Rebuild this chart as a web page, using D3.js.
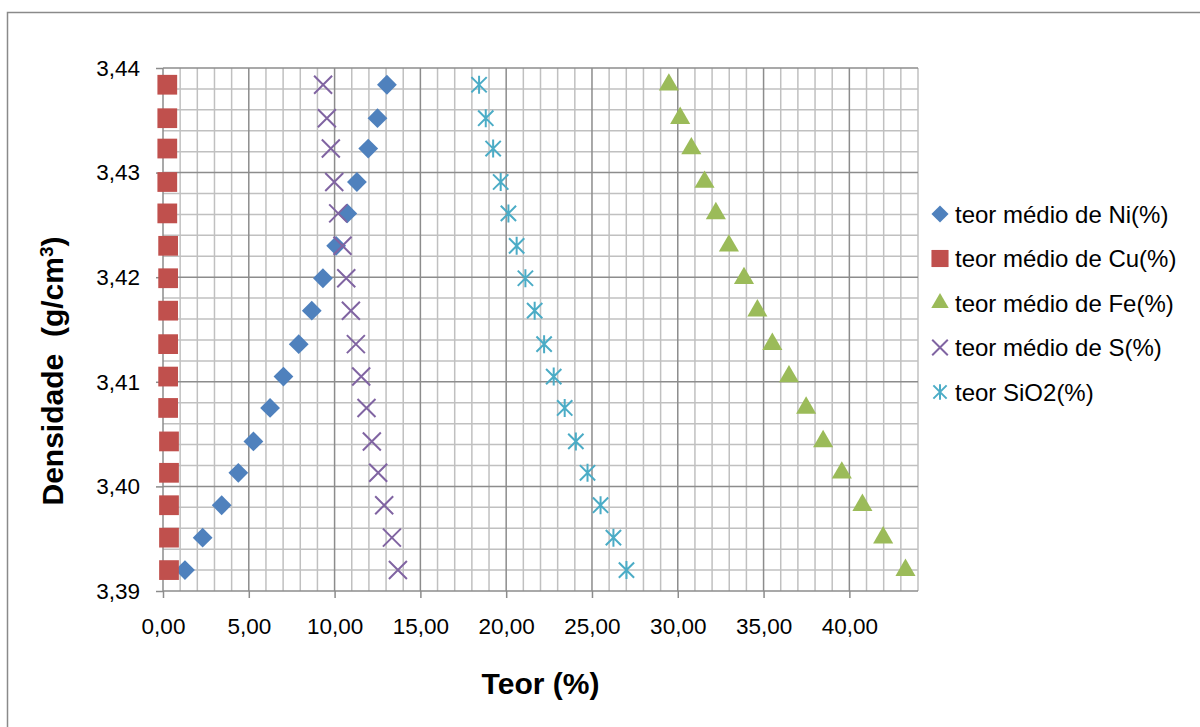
<!DOCTYPE html>
<html>
<head>
<meta charset="utf-8">
<script src="https://cdn.jsdelivr.net/npm/d3@7/dist/d3.min.js"></script>
<style>
  html, body { margin: 0; padding: 0; background: #ffffff; }
  svg { display: block; }
  text { font-family: "Liberation Sans", Arial, sans-serif; fill: #000; }
</style>
</head>
<body>
<svg id="chart" width="1200" height="727"></svg>
<script>
// Density (g/cm3) for each sample row
const density = [3.4384, 3.4352, 3.4323, 3.4291, 3.4261, 3.4230, 3.4199, 3.4168,
                 3.4136, 3.4105, 3.4075, 3.4043, 3.4013, 3.3982, 3.3951, 3.3920];

// Average grades (%) per element
const niValues   = [13.05, 12.50, 11.96, 11.30, 10.74, 10.09, 9.32, 8.67,
                    7.91, 7.02, 6.24, 5.27, 4.39, 3.42, 2.31, 1.28];
const cuValues   = [0.25, 0.25, 0.25, 0.25, 0.25, 0.30, 0.30, 0.30,
                    0.30, 0.30, 0.30, 0.35, 0.35, 0.35, 0.35, 0.35];
const feValues   = [29.48, 30.14, 30.79, 31.56, 32.22, 32.98, 33.86, 34.64,
                    35.51, 36.48, 37.48, 38.47, 39.56, 40.76, 41.97, 43.27];
const sValues    = [9.33, 9.55, 9.78, 9.98, 10.21, 10.46, 10.68, 10.95,
                    11.24, 11.55, 11.86, 12.17, 12.54, 12.89, 13.34, 13.69];
const sio2Values = [18.42, 18.81, 19.24, 19.68, 20.13, 20.61, 21.12, 21.66,
                    22.21, 22.77, 23.41, 24.06, 24.74, 25.50, 26.25, 27.01];

const seriesNames = ["teor médio de Ni(%)", "teor médio de Cu(%)", "teor médio de Fe(%)",
                     "teor médio de S(%)", "teor SiO2(%)"];

const xTicks = [0, 5, 10, 15, 20, 25, 30, 35, 40];
const yTicks = [3.39, 3.40, 3.41, 3.42, 3.43, 3.44];

// Custom marker shapes: 45° cross and cross-with-vertical-bar star
const crossSymbol = {
  draw(ctx, size) {
    const r = Math.sqrt(size) / 2;
    ctx.moveTo(-r, -r); ctx.lineTo(r, r);
    ctx.moveTo(-r, r); ctx.lineTo(r, -r);
  }
};
const starSymbol = {
  draw(ctx, size) {
    const r = Math.sqrt(size) / 2;
    ctx.moveTo(-r * 0.85, -r * 0.85); ctx.lineTo(r * 0.85, r * 0.85);
    ctx.moveTo(-r * 0.85, r * 0.85); ctx.lineTo(r * 0.85, -r * 0.85);
    ctx.moveTo(0, -r); ctx.lineTo(0, r);
  }
};

const series = [
  { name: seriesNames[0], values: niValues,   color: "#4F81BD", type: d3.symbolDiamond2, size: 250, fill: true },
  { name: seriesNames[1], values: cuValues,   color: "#C0504D", type: d3.symbolSquare,   size: 390, fill: true },
  { name: seriesNames[2], values: feValues,   color: "#9BBB59", type: d3.symbolTriangle, size: 175, fill: true },
  { name: seriesNames[3], values: sValues,    color: "#8064A2", type: crossSymbol,       size: 324, fill: false },
  { name: seriesNames[4], values: sio2Values, color: "#4BACC6", type: starSymbol,        size: 324, fill: false }
];

const svg = d3.select("#chart");
const plotLeft = 163, plotRight = 918, plotTop = 68, plotBottom = 591;

const x = d3.scaleLinear().domain([0, 44]).range([plotLeft, plotRight]);
const y = d3.scaleLinear().domain([3.39, 3.44]).range([plotBottom, plotTop]);

// Outer chart frame
svg.append("rect")
  .attr("x", 7.5).attr("y", 12.5)
  .attr("width", 1300).attr("height", 800)
  .attr("fill", "none").attr("stroke", "#8a8a8a").attr("stroke-width", 1.5);

// Minor grid
const g = svg.append("g");
const minorX = d3.range(0, 45, 1);
const minorY = d3.range(0, 26).map(i => 3.39 + i * 0.002);
g.selectAll(".mx").data(minorX.filter(v => v % 5 !== 0)).join("line")
  .attr("x1", d => x(d)).attr("x2", d => x(d))
  .attr("y1", plotTop).attr("y2", plotBottom)
  .attr("stroke", "#c0c0c0").attr("stroke-width", 1.5);
g.selectAll(".my").data(minorY.filter((v, i) => i % 5 !== 0)).join("line")
  .attr("x1", plotLeft).attr("x2", plotRight)
  .attr("y1", d => y(d)).attr("y2", d => y(d))
  .attr("stroke", "#c0c0c0").attr("stroke-width", 1.5);

// Major grid
g.selectAll(".Mx").data(xTicks.filter(v => v > 0)).join("line")
  .attr("x1", d => x(d)).attr("x2", d => x(d))
  .attr("y1", plotTop).attr("y2", plotBottom)
  .attr("stroke", "#8c8c8c").attr("stroke-width", 1.5);
g.selectAll(".My").data(yTicks.filter(v => v > 3.39)).join("line")
  .attr("x1", plotLeft).attr("x2", plotRight)
  .attr("y1", d => y(d)).attr("y2", d => y(d))
  .attr("stroke", "#8c8c8c").attr("stroke-width", 1.5);

// Axes
const fmt = (d, n) => d.toFixed(n).replace(".", ",");
const xAxis = d3.axisBottom(x).tickValues(xTicks).tickSize(7).tickPadding(20)
  .tickFormat(d => fmt(d, 2));
const yAxis = d3.axisLeft(y).tickValues(yTicks).tickSize(7).tickPadding(16)
  .tickFormat(d => fmt(d, 2));

const gx = svg.append("g").attr("transform", `translate(0,${plotBottom})`).call(xAxis);
const gy = svg.append("g").attr("transform", `translate(${plotLeft},0)`).call(yAxis);
[gx, gy].forEach(a => {
  a.select(".domain").attr("stroke", "#8c8c8c").attr("stroke-width", 1.5);
  a.selectAll(".tick line").attr("stroke", "#8c8c8c").attr("stroke-width", 1.5);
  a.selectAll(".tick text").attr("font-size", 22.5)
    .attr("font-family", "'Liberation Sans', Arial, sans-serif").attr("fill", "#000");
});
gy.select(".domain").attr("d", `M0,${plotTop}V${plotBottom}`);
gx.select(".domain").attr("d", `M${plotLeft},0H${plotRight}`);

// Markers
series.forEach(s => {
  const sym = d3.symbol().type(s.type).size(s.size);
  svg.append("g").selectAll("path").data(s.values).join("path")
    .attr("transform", (d, i) => `translate(${x(d)},${y(density[i])})`)
    .attr("d", sym)
    .attr("fill", s.fill ? s.color : "none")
    .attr("stroke", s.fill ? "none" : s.color)
    .attr("stroke-width", 2);
});

// Legend
const legend = svg.append("g");
series.forEach((s, i) => {
  const ly = 214 + i * 44.5;
  const sym = d3.symbol().type(s.type).size(s.size * 0.75);
  legend.append("path")
    .attr("transform", `translate(940,${ly})`)
    .attr("d", sym)
    .attr("fill", s.fill ? s.color : "none")
    .attr("stroke", s.fill ? "none" : s.color)
    .attr("stroke-width", 2);
  legend.append("text")
    .attr("x", 955).attr("y", ly)
    .attr("dy", "0.36em")
    .attr("font-size", 24)
    .text(s.name);
});

// Axis titles
svg.append("text")
  .attr("x", (plotLeft + plotRight) / 2).attr("y", 683).attr("dy", "0.36em")
  .attr("text-anchor", "middle")
  .attr("font-size", 30).attr("font-weight", "bold")
  .text("Teor (%)");

const yt = svg.append("text")
  .attr("transform", "translate(52,371) rotate(-90)")
  .attr("text-anchor", "middle").attr("dy", "0.36em")
  .attr("font-size", 30).attr("font-weight", "bold")
  .attr("xml:space", "preserve")
  .style("white-space", "pre");
yt.append("tspan").text("Densidade  (g/cm");
yt.append("tspan").attr("baseline-shift", "super").attr("font-size", 19).text("3");
yt.append("tspan").text(")");
</script>
</body>
</html>
